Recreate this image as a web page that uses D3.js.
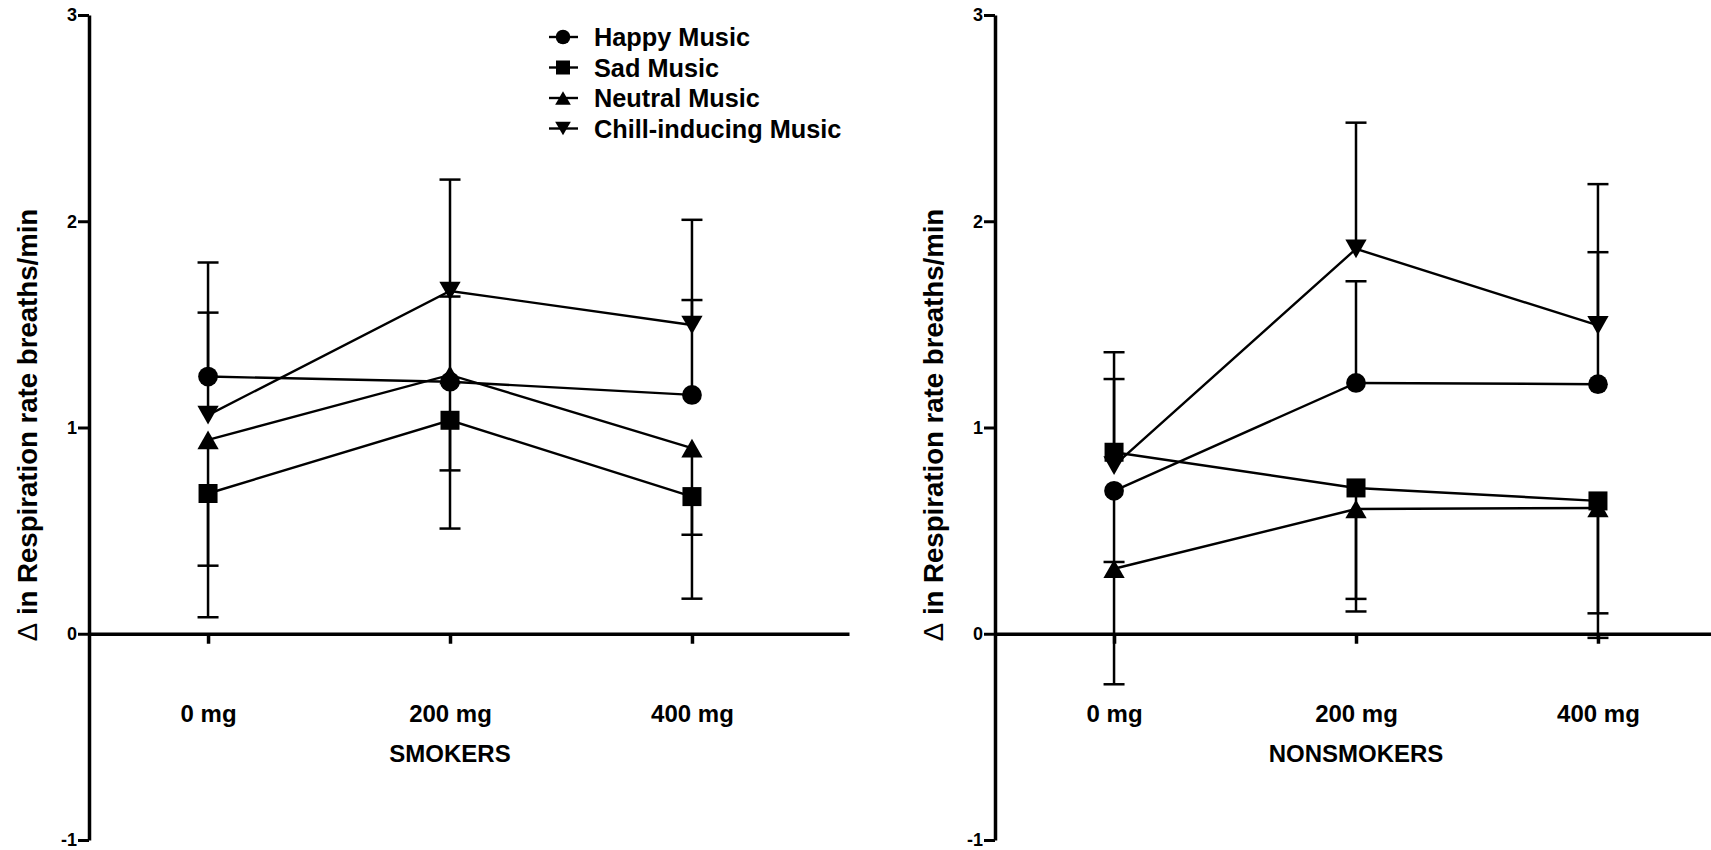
<!DOCTYPE html>
<html>
<head>
<meta charset="utf-8">
<script src="https://cdn.jsdelivr.net/npm/d3@7"></script>
<style>
  body { margin: 0; background: #fff; }
  svg text { font-family: "Liberation Sans", Arial, sans-serif; font-weight: bold; fill: #000; }
</style>
</head>
<body>
<div id="chart"></div>
<script>
const doses = ["0 mg", "200 mg", "400 mg"];
const seriesNames = ["Happy Music", "Sad Music", "Neutral Music", "Chill-inducing Music"];
const seriesSymbols = ["circle", "square", "triangleUp", "triangleDown"];
const yTicks = [-1, 0, 1, 2, 3];
const yTitle = "in Respiration rate breaths/min";

// SMOKERS: means and SEM per dose
const smokersHappy = [1.247, 1.222, 1.158];
const smokersSad = [0.68, 1.035, 0.665];
const smokersNeutral = [0.94, 1.255, 0.90];
const smokersChill = [1.06, 1.662, 1.497];
const smokersHappyErr = [0.31, 0.43, 0.46];
const smokersSadErr = [0.60, 0.525, 0.185];
const smokersNeutralErr = [0.61, 0.38, 0.73];
const smokersChillErr = [0.74, 0.54, 0.51];

// NONSMOKERS
const nonsmokersHappy = [0.693, 1.216, 1.21];
const nonsmokersSad = [0.88, 0.707, 0.644];
const nonsmokersNeutral = [0.315, 0.605, 0.61];
const nonsmokersChill = [0.815, 1.866, 1.495];
const nonsmokersHappyErr = [0.345, 0.493, 0.64];
const nonsmokersSadErr = [0.355, 0.538, 0.545];
const nonsmokersNeutralErr = [0.56, 0.497, 0.63];
const nonsmokersChillErr = [0.55, 0.612, 0.685];

const panels = [
  { title: "SMOKERS", axisX: 89,
    means: [smokersHappy, smokersSad, smokersNeutral, smokersChill],
    errs: [smokersHappyErr, smokersSadErr, smokersNeutralErr, smokersChillErr] },
  { title: "NONSMOKERS", axisX: 995,
    means: [nonsmokersHappy, nonsmokersSad, nonsmokersNeutral, nonsmokersChill],
    errs: [nonsmokersHappyErr, nonsmokersSadErr, nonsmokersNeutralErr, nonsmokersChillErr] }
];

const width = 1711, height = 850;

const svg = d3.select("#chart")
  .append("svg")
  .attr("width", width)
  .attr("height", height);

const y = d3.scaleLinear().domain([-1, 3]).range([840, 15]);

// marker shapes, centred on the point
function addMarker(sel, type, s) {
  if (type === "circle") {
    sel.append("circle").attr("r", s * 0.52);
  } else if (type === "square") {
    sel.append("rect").attr("x", -s / 2).attr("y", -s / 2).attr("width", s).attr("height", s);
  } else if (type === "triangleUp") {
    const w = s * 1.12, h = s * 0.98;
    sel.append("path").attr("d", `M0,${-h / 2}L${w / 2},${h / 2}L${-w / 2},${h / 2}Z`);
  } else {
    const w = s * 1.12, h = s * 0.98;
    sel.append("path").attr("d", `M0,${h / 2}L${w / 2},${-h / 2}L${-w / 2},${-h / 2}Z`);
  }
  sel.selectAll("*").attr("fill", "#000");
}

panels.forEach(p => {
  const x = d3.scaleLinear()
    .domain([-0.492, 2.649])
    .range([p.axisX, p.axisX + 760]);

  const g = svg.append("g");

  // y axis
  const yAxis = g.append("g")
    .attr("transform", `translate(${p.axisX},0)`)
    .call(d3.axisLeft(y).tickValues(yTicks).tickFormat(d => String(d))
      .tickSize(11).tickSizeOuter(0).tickPadding(1));
  yAxis.select(".domain").attr("stroke", "#000").attr("stroke-width", 3.5);
  yAxis.selectAll(".tick line").attr("stroke", "#000").attr("stroke-width", 3);
  yAxis.selectAll(".tick text").attr("font-size", 18);
  yAxis.attr("font-family", null).attr("font-size", null);

  // x axis at zero
  const xAxis = g.append("g")
    .attr("transform", `translate(0,${y(0)})`)
    .call(d3.axisBottom(x).tickValues([0, 1, 2]).tickFormat(i => doses[i])
      .tickSize(10).tickSizeOuter(0).tickPadding(61));
  xAxis.select(".domain").attr("stroke", "#000").attr("stroke-width", 3.5);
  xAxis.selectAll(".tick line").attr("stroke", "#000").attr("stroke-width", 3.5);
  xAxis.selectAll(".tick text").attr("font-size", 24);
  xAxis.attr("font-family", null).attr("font-size", null);

  // panel title under the axis
  g.append("text")
    .attr("x", x(1))
    .attr("y", 762)
    .attr("text-anchor", "middle")
    .attr("font-size", 24)
    .text(p.title);

  // y axis title
  const yt = g.append("text")
    .attr("transform", `translate(${p.axisX - 52},425) rotate(-90)`)
    .attr("text-anchor", "middle")
    .attr("font-size", 27.6);
  yt.append("tspan").attr("font-weight", "normal").text("\u0394");
  yt.append("tspan").text(" " + yTitle);

  // connecting lines
  const line = d3.line().x((d, i) => x(i)).y(d => y(d));
  g.selectAll(".series")
    .data(p.means)
    .join("path")
    .attr("class", "series")
    .attr("d", line)
    .attr("fill", "none")
    .attr("stroke", "#000")
    .attr("stroke-width", 2.4);

  // error bars: the two highest series at a dose go up, the two lowest go down
  const bars = [];
  doses.forEach((dose, i) => {
    const order = d3.range(4).sort((a, b) => p.means[b][i] - p.means[a][i]);
    order.forEach((s, rank) => {
      const m = p.means[s][i], e = p.errs[s][i];
      bars.push({ i, m, end: rank < 2 ? m + e : m - e });
    });
  });
  const eb = g.selectAll(".err").data(bars).join("g").attr("class", "err");
  eb.append("line")
    .attr("x1", d => x(d.i)).attr("x2", d => x(d.i))
    .attr("y1", d => y(d.m)).attr("y2", d => y(d.end))
    .attr("stroke", "#000").attr("stroke-width", 2.5);
  eb.append("line")
    .attr("x1", d => x(d.i) - 10.5).attr("x2", d => x(d.i) + 10.5)
    .attr("y1", d => y(d.end)).attr("y2", d => y(d.end))
    .attr("stroke", "#000").attr("stroke-width", 2.5);

  // markers
  p.means.forEach((vals, s) => {
    vals.forEach((v, i) => {
      const mg = g.append("g").attr("transform", `translate(${x(i)},${y(v)})`);
      addMarker(mg, seriesSymbols[s], 19);
    });
  });
});

// legend
const legend = svg.append("g").attr("transform", "translate(563,37)");
seriesNames.forEach((name, s) => {
  const row = legend.append("g").attr("transform", `translate(0,${s * 30.5})`);
  row.append("line").attr("x1", -14).attr("x2", 15)
    .attr("stroke", "#000").attr("stroke-width", 2.4);
  addMarker(row.append("g"), seriesSymbols[s], 14);
  row.append("text")
    .attr("x", 31)
    .attr("dy", "0.36em")
    .attr("font-size", 25.3)
    .text(name);
});
</script>
</body>
</html>
